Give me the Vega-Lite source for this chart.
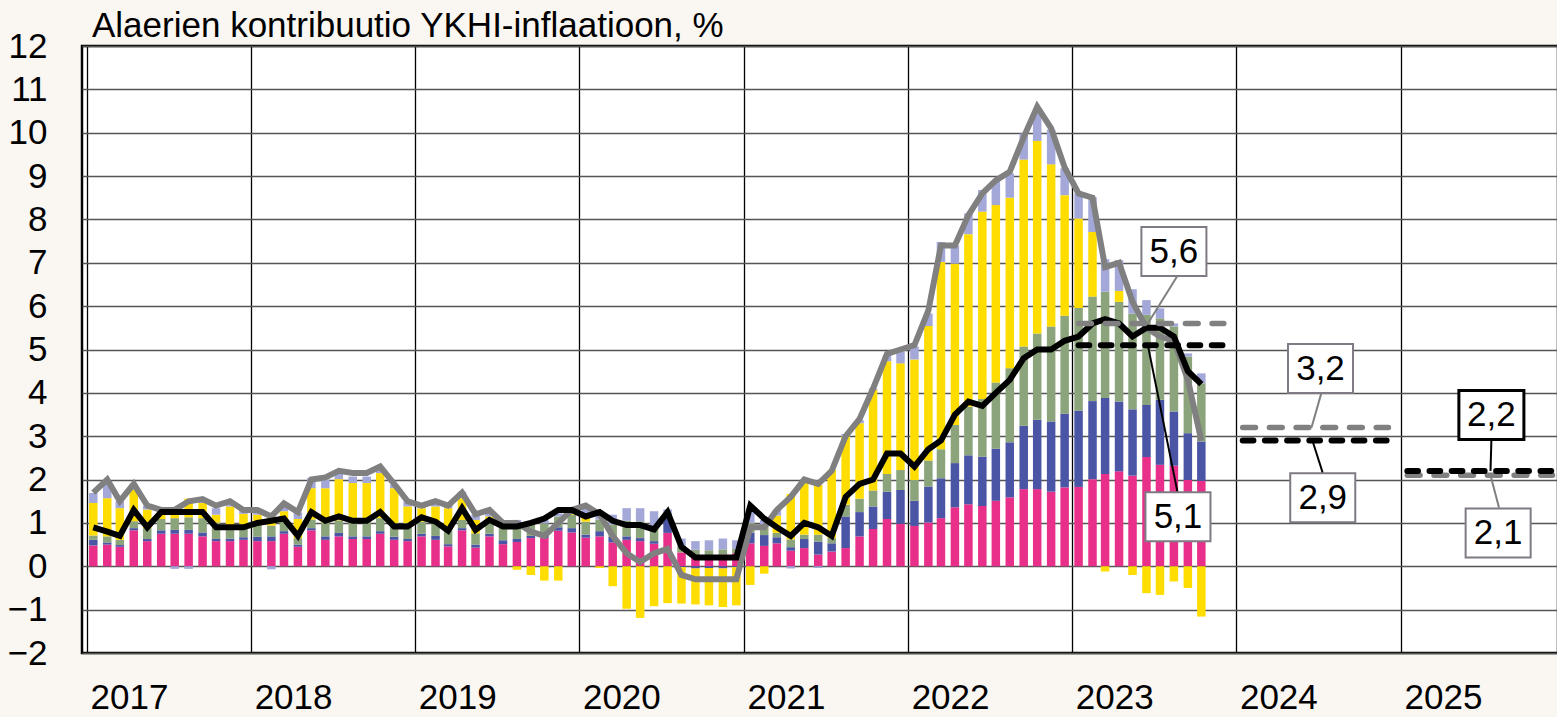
{
  "$schema": "https://vega.github.io/schema/vega-lite/v6.json",
  "autosize": {"type": "none"},
  "padding": {"left": 82, "top": 46, "right": 0, "bottom": 64},
  "width": 1476,
  "height": 607,
  "title": {"text": "Alaerien kontribuutio YKHI-inflaatioon, %", "anchor": "start", "frame": "group", "dx": 10, "offset": -42.5, "baseline": "alphabetic", "fontSize": 35, "font": "Liberation Sans", "fontWeight": "normal", "color": "black"},
  "config": {
    "background": "#FAF6F1",
    "view": {"fill": "white", "stroke": "black", "strokeWidth": 2.5},
    "axis": {"title": null, "labelFont": "Liberation Sans", "labelFontSize": 35, "labelColor": "black", "ticks": false, "domain": false}
  },
  "data": {
    "format": {"parse": {"d": "date"}},
    "values": [
      {"d":"2017-01-15","palvelut":0.48,"muut_tavarat":0.13,"jalost_ruoka":0.10,"energia":0.75,"ei_jalost_ruoka":0.23,"hicp":1.7,"core":0.9},
      {"d":"2017-02-15","palvelut":0.50,"muut_tavarat":0.05,"jalost_ruoka":0.14,"energia":0.88,"ei_jalost_ruoka":0.38,"hicp":2.0,"core":0.8},
      {"d":"2017-03-15","palvelut":0.45,"muut_tavarat":0.04,"jalost_ruoka":0.12,"energia":0.73,"ei_jalost_ruoka":0.16,"hicp":1.5,"core":0.7},
      {"d":"2017-04-15","palvelut":0.83,"muut_tavarat":0.05,"jalost_ruoka":0.16,"energia":0.73,"ei_jalost_ruoka":0.13,"hicp":1.9,"core":1.3},
      {"d":"2017-05-15","palvelut":0.58,"muut_tavarat":0.05,"jalost_ruoka":0.25,"energia":0.43,"ei_jalost_ruoka":0.09,"hicp":1.4,"core":0.9},
      {"d":"2017-06-15","palvelut":0.75,"muut_tavarat":0.08,"jalost_ruoka":0.26,"energia":0.13,"ei_jalost_ruoka":0.08,"hicp":1.3,"core":1.25},
      {"d":"2017-07-15","palvelut":0.75,"muut_tavarat":0.09,"jalost_ruoka":0.27,"energia":0.25,"ei_jalost_ruoka":-0.06,"hicp":1.3,"core":1.25},
      {"d":"2017-08-15","palvelut":0.75,"muut_tavarat":0.09,"jalost_ruoka":0.29,"energia":0.43,"ei_jalost_ruoka":-0.06,"hicp":1.5,"core":1.25},
      {"d":"2017-09-15","palvelut":0.69,"muut_tavarat":0.09,"jalost_ruoka":0.33,"energia":0.35,"ei_jalost_ruoka":0.11,"hicp":1.55,"core":1.25},
      {"d":"2017-10-15","palvelut":0.58,"muut_tavarat":0.05,"jalost_ruoka":0.38,"energia":0.18,"ei_jalost_ruoka":0.15,"hicp":1.4,"core":0.9},
      {"d":"2017-11-15","palvelut":0.58,"muut_tavarat":0.06,"jalost_ruoka":0.27,"energia":0.47,"ei_jalost_ruoka":0.08,"hicp":1.5,"core":0.9},
      {"d":"2017-12-15","palvelut":0.61,"muut_tavarat":0.06,"jalost_ruoka":0.29,"energia":0.25,"ei_jalost_ruoka":0.13,"hicp":1.3,"core":0.9},
      {"d":"2018-01-15","palvelut":0.58,"muut_tavarat":0.10,"jalost_ruoka":0.28,"energia":0.23,"ei_jalost_ruoka":0.08,"hicp":1.3,"core":1.0},
      {"d":"2018-02-15","palvelut":0.58,"muut_tavarat":0.11,"jalost_ruoka":0.25,"energia":0.20,"ei_jalost_ruoka":-0.07,"hicp":1.15,"core":1.05},
      {"d":"2018-03-15","palvelut":0.75,"muut_tavarat":0.06,"jalost_ruoka":0.23,"energia":0.23,"ei_jalost_ruoka":0.13,"hicp":1.45,"core":1.1},
      {"d":"2018-04-15","palvelut":0.45,"muut_tavarat":0.05,"jalost_ruoka":0.15,"energia":0.44,"ei_jalost_ruoka":0.15,"hicp":1.25,"core":0.7},
      {"d":"2018-05-15","palvelut":0.83,"muut_tavarat":0.05,"jalost_ruoka":0.20,"energia":0.72,"ei_jalost_ruoka":0.24,"hicp":2.0,"core":1.25},
      {"d":"2018-06-15","palvelut":0.61,"muut_tavarat":0.08,"jalost_ruoka":0.32,"energia":0.79,"ei_jalost_ruoka":0.20,"hicp":2.05,"core":1.05},
      {"d":"2018-07-15","palvelut":0.69,"muut_tavarat":0.08,"jalost_ruoka":0.29,"energia":0.95,"ei_jalost_ruoka":0.14,"hicp":2.2,"core":1.15},
      {"d":"2018-08-15","palvelut":0.63,"muut_tavarat":0.06,"jalost_ruoka":0.35,"energia":0.88,"ei_jalost_ruoka":0.15,"hicp":2.15,"core":1.05},
      {"d":"2018-09-15","palvelut":0.63,"muut_tavarat":0.06,"jalost_ruoka":0.36,"energia":0.87,"ei_jalost_ruoka":0.15,"hicp":2.15,"core":1.05},
      {"d":"2018-10-15","palvelut":0.75,"muut_tavarat":0.06,"jalost_ruoka":0.30,"energia":1.04,"ei_jalost_ruoka":0.12,"hicp":2.3,"core":1.25},
      {"d":"2018-11-15","palvelut":0.61,"muut_tavarat":0.07,"jalost_ruoka":0.32,"energia":0.80,"ei_jalost_ruoka":0.08,"hicp":1.9,"core":0.92},
      {"d":"2018-12-15","palvelut":0.58,"muut_tavarat":0.05,"jalost_ruoka":0.37,"energia":0.38,"ei_jalost_ruoka":0.12,"hicp":1.5,"core":0.92},
      {"d":"2019-01-15","palvelut":0.69,"muut_tavarat":0.06,"jalost_ruoka":0.28,"energia":0.31,"ei_jalost_ruoka":0.10,"hicp":1.4,"core":1.13},
      {"d":"2019-02-15","palvelut":0.61,"muut_tavarat":0.09,"jalost_ruoka":0.30,"energia":0.38,"ei_jalost_ruoka":0.12,"hicp":1.5,"core":1.03},
      {"d":"2019-03-15","palvelut":0.46,"muut_tavarat":0.05,"jalost_ruoka":0.33,"energia":0.50,"ei_jalost_ruoka":0.08,"hicp":1.4,"core":0.82},
      {"d":"2019-04-15","palvelut":0.83,"muut_tavarat":0.05,"jalost_ruoka":0.19,"energia":0.50,"ei_jalost_ruoka":0.15,"hicp":1.7,"core":1.34},
      {"d":"2019-05-15","palvelut":0.43,"muut_tavarat":0.07,"jalost_ruoka":0.26,"energia":0.31,"ei_jalost_ruoka":0.12,"hicp":1.2,"core":0.84},
      {"d":"2019-06-15","palvelut":0.69,"muut_tavarat":0.06,"jalost_ruoka":0.28,"energia":0.12,"ei_jalost_ruoka":0.11,"hicp":1.3,"core":1.07},
      {"d":"2019-07-15","palvelut":0.51,"muut_tavarat":0.09,"jalost_ruoka":0.32,"energia":0.07,"ei_jalost_ruoka":0.01,"hicp":1.0,"core":0.92},
      {"d":"2019-08-15","palvelut":0.56,"muut_tavarat":0.07,"jalost_ruoka":0.36,"energia":-0.08,"ei_jalost_ruoka":0.08,"hicp":1.0,"core":0.92},
      {"d":"2019-09-15","palvelut":0.65,"muut_tavarat":0.05,"jalost_ruoka":0.26,"energia":-0.20,"ei_jalost_ruoka":0.07,"hicp":0.8,"core":1.0},
      {"d":"2019-10-15","palvelut":0.65,"muut_tavarat":0.08,"jalost_ruoka":0.26,"energia":-0.33,"ei_jalost_ruoka":0.08,"hicp":0.7,"core":1.1},
      {"d":"2019-11-15","palvelut":0.82,"muut_tavarat":0.08,"jalost_ruoka":0.25,"energia":-0.33,"ei_jalost_ruoka":0.07,"hicp":1.0,"core":1.3},
      {"d":"2019-12-15","palvelut":0.78,"muut_tavarat":0.10,"jalost_ruoka":0.31,"energia":0.02,"ei_jalost_ruoka":0.11,"hicp":1.3,"core":1.3},
      {"d":"2020-01-15","palvelut":0.66,"muut_tavarat":0.07,"jalost_ruoka":0.30,"energia":0.19,"ei_jalost_ruoka":0.18,"hicp":1.4,"core":1.15},
      {"d":"2020-02-15","palvelut":0.69,"muut_tavarat":0.12,"jalost_ruoka":0.27,"energia":-0.04,"ei_jalost_ruoka":0.19,"hicp":1.2,"core":1.25},
      {"d":"2020-03-15","palvelut":0.55,"muut_tavarat":0.13,"jalost_ruoka":0.28,"energia":-0.46,"ei_jalost_ruoka":0.23,"hicp":0.7,"core":1.05},
      {"d":"2020-04-15","palvelut":0.61,"muut_tavarat":0.08,"jalost_ruoka":0.36,"energia":-0.98,"ei_jalost_ruoka":0.29,"hicp":0.3,"core":0.95},
      {"d":"2020-05-15","palvelut":0.58,"muut_tavarat":0.07,"jalost_ruoka":0.39,"energia":-1.19,"ei_jalost_ruoka":0.30,"hicp":0.1,"core":0.95},
      {"d":"2020-06-15","palvelut":0.52,"muut_tavarat":0.06,"jalost_ruoka":0.32,"energia":-0.92,"ei_jalost_ruoka":0.37,"hicp":0.3,"core":0.85},
      {"d":"2020-07-15","palvelut":0.77,"muut_tavarat":0.34,"jalost_ruoka":0.12,"energia":-0.85,"ei_jalost_ruoka":0.08,"hicp":0.4,"core":1.25},
      {"d":"2020-08-15","palvelut":0.32,"muut_tavarat":-0.02,"jalost_ruoka":0.15,"energia":-0.84,"ei_jalost_ruoka":0.17,"hicp":-0.2,"core":0.45},
      {"d":"2020-09-15","palvelut":0.25,"muut_tavarat":-0.05,"jalost_ruoka":0.13,"energia":-0.83,"ei_jalost_ruoka":0.20,"hicp":-0.3,"core":0.2},
      {"d":"2020-10-15","palvelut":0.25,"muut_tavarat":-0.04,"jalost_ruoka":0.12,"energia":-0.86,"ei_jalost_ruoka":0.23,"hicp":-0.3,"core":0.2},
      {"d":"2020-11-15","palvelut":0.27,"muut_tavarat":-0.05,"jalost_ruoka":0.12,"energia":-0.89,"ei_jalost_ruoka":0.25,"hicp":-0.3,"core":0.2},
      {"d":"2020-12-15","palvelut":0.30,"muut_tavarat":-0.02,"jalost_ruoka":0.10,"energia":-0.88,"ei_jalost_ruoka":0.20,"hicp":-0.3,"core":0.2},
      {"d":"2021-01-15","palvelut":0.53,"muut_tavarat":0.25,"jalost_ruoka":0.22,"energia":-0.43,"ei_jalost_ruoka":0.33,"hicp":0.9,"core":1.4},
      {"d":"2021-02-15","palvelut":0.47,"muut_tavarat":0.25,"jalost_ruoka":0.20,"energia":-0.17,"ei_jalost_ruoka":0.15,"hicp":0.9,"core":1.1},
      {"d":"2021-03-15","palvelut":0.53,"muut_tavarat":0.14,"jalost_ruoka":0.10,"energia":0.40,"ei_jalost_ruoka":0.13,"hicp":1.3,"core":0.9},
      {"d":"2021-04-15","palvelut":0.36,"muut_tavarat":0.08,"jalost_ruoka":0.18,"energia":1.05,"ei_jalost_ruoka":-0.05,"hicp":1.6,"core":0.7},
      {"d":"2021-05-15","palvelut":0.42,"muut_tavarat":0.21,"jalost_ruoka":0.10,"energia":1.26,"ei_jalost_ruoka":0.02,"hicp":2.0,"core":1.0},
      {"d":"2021-06-15","palvelut":0.27,"muut_tavarat":0.30,"jalost_ruoka":0.16,"energia":1.15,"ei_jalost_ruoka":-0.04,"hicp":1.9,"core":0.9},
      {"d":"2021-07-15","palvelut":0.34,"muut_tavarat":0.19,"jalost_ruoka":0.12,"energia":1.57,"ei_jalost_ruoka":0.0,"hicp":2.2,"core":0.7},
      {"d":"2021-08-15","palvelut":0.42,"muut_tavarat":0.73,"jalost_ruoka":0.27,"energia":1.58,"ei_jalost_ruoka":0.05,"hicp":3.0,"core":1.6},
      {"d":"2021-09-15","palvelut":0.69,"muut_tavarat":0.56,"jalost_ruoka":0.31,"energia":1.74,"ei_jalost_ruoka":0.07,"hicp":3.4,"core":1.9},
      {"d":"2021-10-15","palvelut":0.86,"muut_tavarat":0.52,"jalost_ruoka":0.37,"energia":2.32,"ei_jalost_ruoka":0.03,"hicp":4.1,"core":2.0},
      {"d":"2021-11-15","palvelut":1.09,"muut_tavarat":0.63,"jalost_ruoka":0.41,"energia":2.60,"ei_jalost_ruoka":0.14,"hicp":4.9,"core":2.6},
      {"d":"2021-12-15","palvelut":0.98,"muut_tavarat":0.78,"jalost_ruoka":0.46,"energia":2.46,"ei_jalost_ruoka":0.27,"hicp":5.0,"core":2.6},
      {"d":"2022-01-15","palvelut":0.93,"muut_tavarat":0.58,"jalost_ruoka":0.48,"energia":2.78,"ei_jalost_ruoka":0.30,"hicp":5.1,"core":2.3},
      {"d":"2022-02-15","palvelut":1.01,"muut_tavarat":0.83,"jalost_ruoka":0.60,"energia":3.10,"ei_jalost_ruoka":0.29,"hicp":5.9,"core":2.7},
      {"d":"2022-03-15","palvelut":1.11,"muut_tavarat":0.92,"jalost_ruoka":0.67,"energia":4.32,"ei_jalost_ruoka":0.46,"hicp":7.4,"core":2.9},
      {"d":"2022-04-15","palvelut":1.36,"muut_tavarat":1.02,"jalost_ruoka":0.88,"energia":3.72,"ei_jalost_ruoka":0.42,"hicp":7.4,"core":3.5},
      {"d":"2022-05-15","palvelut":1.43,"muut_tavarat":1.13,"jalost_ruoka":1.12,"energia":3.98,"ei_jalost_ruoka":0.48,"hicp":8.1,"core":3.8},
      {"d":"2022-06-15","palvelut":1.39,"muut_tavarat":1.14,"jalost_ruoka":1.33,"energia":4.32,"ei_jalost_ruoka":0.50,"hicp":8.6,"core":3.7},
      {"d":"2022-07-15","palvelut":1.51,"muut_tavarat":1.20,"jalost_ruoka":1.53,"energia":4.09,"ei_jalost_ruoka":0.55,"hicp":8.9,"core":4.0},
      {"d":"2022-08-15","palvelut":1.59,"muut_tavarat":1.27,"jalost_ruoka":1.71,"energia":3.93,"ei_jalost_ruoka":0.56,"hicp":9.1,"core":4.3},
      {"d":"2022-09-15","palvelut":1.78,"muut_tavarat":1.46,"jalost_ruoka":1.83,"energia":4.31,"ei_jalost_ruoka":0.60,"hicp":9.9,"core":4.8},
      {"d":"2022-10-15","palvelut":1.78,"muut_tavarat":1.60,"jalost_ruoka":1.99,"energia":4.44,"ei_jalost_ruoka":0.75,"hicp":10.6,"core":5.0},
      {"d":"2022-11-15","palvelut":1.72,"muut_tavarat":1.62,"jalost_ruoka":2.19,"energia":3.74,"ei_jalost_ruoka":0.80,"hicp":10.1,"core":5.0},
      {"d":"2022-12-15","palvelut":1.82,"muut_tavarat":1.70,"jalost_ruoka":2.26,"energia":2.78,"ei_jalost_ruoka":0.62,"hicp":9.2,"core":5.2},
      {"d":"2023-01-15","palvelut":1.83,"muut_tavarat":1.76,"jalost_ruoka":2.37,"energia":2.06,"ei_jalost_ruoka":0.58,"hicp":8.6,"core":5.3},
      {"d":"2023-02-15","palvelut":2.01,"muut_tavarat":1.80,"jalost_ruoka":2.41,"energia":1.49,"ei_jalost_ruoka":0.80,"hicp":8.5,"core":5.6},
      {"d":"2023-03-15","palvelut":2.13,"muut_tavarat":1.75,"jalost_ruoka":2.45,"energia":-0.12,"ei_jalost_ruoka":0.75,"hicp":6.9,"core":5.7},
      {"d":"2023-04-15","palvelut":2.19,"muut_tavarat":1.61,"jalost_ruoka":2.30,"energia":0.25,"ei_jalost_ruoka":0.71,"hicp":7.0,"core":5.6},
      {"d":"2023-05-15","palvelut":2.09,"muut_tavarat":1.53,"jalost_ruoka":2.21,"energia":-0.20,"ei_jalost_ruoka":0.56,"hicp":6.1,"core":5.3},
      {"d":"2023-06-15","palvelut":2.52,"muut_tavarat":1.20,"jalost_ruoka":2.08,"energia":-0.62,"ei_jalost_ruoka":0.34,"hicp":5.5,"core":5.5},
      {"d":"2023-07-15","palvelut":2.34,"muut_tavarat":1.50,"jalost_ruoka":1.88,"energia":-0.66,"ei_jalost_ruoka":0.23,"hicp":5.3,"core":5.5},
      {"d":"2023-08-15","palvelut":2.32,"muut_tavarat":1.25,"jalost_ruoka":1.96,"energia":-0.35,"ei_jalost_ruoka":0.07,"hicp":5.2,"core":5.3},
      {"d":"2023-09-15","palvelut":1.99,"muut_tavarat":1.08,"jalost_ruoka":1.77,"energia":-0.50,"ei_jalost_ruoka":0.07,"hicp":4.3,"core":4.5},
      {"d":"2023-10-15","palvelut":1.97,"muut_tavarat":0.91,"jalost_ruoka":1.34,"energia":-1.16,"ei_jalost_ruoka":0.23,"hicp":2.9,"core":4.2}
    ]
  },
  "layer": [
    {
      "transform": [{"fold": ["palvelut", "muut_tavarat", "jalost_ruoka", "energia", "ei_jalost_ruoka"], "as": ["osa", "arvo"]}],
      "mark": {"type": "bar", "width": 8.5},
      "encoding": {
        "x": {
          "field": "d", "type": "temporal",
          "scale": {"type": "utc", "domain": [{"year": 2017, "month": 1, "date": 1, "utc": true}, {"year": 2025, "month": 12, "date": 5, "utc": true}]},
          "axis": {
            "values": [
              {"year": 2017, "month": 1, "date": 1, "utc": true},
              {"year": 2018, "month": 1, "date": 1, "utc": true},
              {"year": 2019, "month": 1, "date": 1, "utc": true},
              {"year": 2020, "month": 1, "date": 1, "utc": true},
              {"year": 2021, "month": 1, "date": 1, "utc": true},
              {"year": 2022, "month": 1, "date": 1, "utc": true},
              {"year": 2023, "month": 1, "date": 1, "utc": true},
              {"year": 2024, "month": 1, "date": 1, "utc": true},
              {"year": 2025, "month": 1, "date": 1, "utc": true}
            ],
            "format": "%Y", "grid": true, "gridColor": "black", "gridWidth": 1.3,
            "labelAlign": "left", "labelOffset": 3, "labelPadding": 27, "labelBaseline": "top",
            "labelFlush": false, "labelOverlap": false
          }
        },
        "y": {
          "field": "arvo", "type": "quantitative",
          "scale": {"domain": [-2, 12], "nice": false, "zero": false},
          "axis": {"values": [-2, -1, 0, 1, 2, 3, 4, 5, 6, 7, 8, 9, 10, 11, 12], "grid": true, "gridColor": "#555555", "gridWidth": 1.5, "labelPadding": 35, "labelFlush": false}
        },
        "color": {
          "field": "osa", "type": "nominal", "legend": null,
          "scale": {"domain": ["palvelut", "muut_tavarat", "jalost_ruoka", "energia", "ei_jalost_ruoka"], "range": ["#E8308A", "#4B55A5", "#8CA47C", "#FFDD00", "#A3A8D8"]}
        },
        "order": {"field": "osa", "sort": "descending"}
      }
    },
    {
      "mark": {"type": "line", "color": "#808080", "strokeWidth": 6},
      "encoding": {"x": {"field": "d", "type": "temporal"}, "y": {"field": "hicp", "type": "quantitative"}}
    },
    {
      "mark": {"type": "line", "color": "black", "strokeWidth": 6},
      "encoding": {"x": {"field": "d", "type": "temporal"}, "y": {"field": "core", "type": "quantitative"}}
    },
    {
      "data": {
        "format": {"parse": {"alku": "date", "loppu": "date"}},
        "values": [
          {"alku": "2023-01-15", "loppu": "2023-12-04", "ykhi": 5.6, "pohja": 5.1},
          {"alku": "2024-01-15", "loppu": "2024-12-04", "ykhi": 3.2, "pohja": 2.9},
          {"alku": "2025-01-15", "loppu": "2025-12-04", "ykhi": 2.1, "pohja": 2.2}
        ]
      },
      "layer": [
        {
          "mark": {"type": "rule", "color": "#808080", "strokeWidth": 5.5, "strokeDash": [12.8, 13.9], "strokeCap": "round"},
          "encoding": {"x": {"field": "alku", "type": "temporal"}, "x2": {"field": "loppu"}, "y": {"field": "ykhi", "type": "quantitative"}}
        },
        {
          "mark": {"type": "rule", "color": "black", "strokeWidth": 6, "strokeDash": [10.7, 11.5], "strokeCap": "round"},
          "encoding": {"x": {"field": "alku", "type": "temporal"}, "x2": {"field": "loppu"}, "y": {"field": "pohja", "type": "quantitative"}}
        }
      ]
    },
    {
      "data": {
        "format": {"parse": {"xa": "date", "xb": "date"}},
        "values": [
          {"xa": "2023-08-23", "ya": 6.70, "xb": "2023-06-18", "yb": 5.6, "sarja": "YKHI"},
          {"xa": "2024-07-08", "ya": 4.00, "xb": "2024-06-16", "yb": 3.2, "sarja": "YKHI"},
          {"xa": "2025-07-19", "ya": 2.10, "xb": "2025-08-07", "yb": 1.35, "sarja": "YKHI"},
          {"xa": "2023-06-18", "ya": 5.1, "xb": "2023-08-23", "yb": 1.71, "sarja": "Pohjainflaatio"},
          {"xa": "2024-06-18", "ya": 2.9, "xb": "2024-07-11", "yb": 2.15, "sarja": "Pohjainflaatio"},
          {"xa": "2025-07-21", "ya": 2.91, "xb": "2025-07-19", "yb": 2.2, "sarja": "Pohjainflaatio"}
        ]
      },
      "mark": {"type": "rule", "strokeWidth": 2},
      "encoding": {
        "x": {"field": "xa", "type": "temporal"}, "x2": {"field": "xb"},
        "y": {"field": "ya", "type": "quantitative"}, "y2": {"field": "yb"},
        "stroke": {"field": "sarja", "type": "nominal", "legend": null, "scale": {"domain": ["YKHI", "Pohjainflaatio"], "range": ["#808080", "black"]}}
      }
    },
    {
      "data": {
        "format": {"parse": {"d": "date"}},
        "values": [
          {"d": "2023-08-15", "v": 7.26, "t": "5,6"},
          {"d": "2023-08-24", "v": 1.14, "t": "5,1"},
          {"d": "2024-07-06", "v": 4.56, "t": "3,2"},
          {"d": "2024-07-11", "v": 1.58, "t": "2,9"},
          {"d": "2025-07-21", "v": 3.49, "t": "2,2"},
          {"d": "2025-08-05", "v": 0.77, "t": "2,1"}
        ]
      },
      "layer": [
        {
          "mark": {"type": "point", "shape": "M-1.327,-1H1.327V1H-1.327Z", "size": 2401, "fill": "white", "opacity": 1, "fillOpacity": 1, "filled": false},
          "encoding": {
            "x": {"field": "d", "type": "temporal"},
            "y": {"field": "v", "type": "quantitative"},
            "stroke": {"condition": {"test": "datum.t === '2,2'", "value": "black"}, "value": "#7F7A84"},
            "strokeWidth": {"condition": {"test": "datum.t === '2,2'", "value": 3}, "value": 2}
          }
        },
        {
          "mark": {"type": "text", "font": "Liberation Sans", "fontSize": 35, "color": "black", "align": "center", "baseline": "middle"},
          "encoding": {
            "x": {"field": "d", "type": "temporal"},
            "y": {"field": "v", "type": "quantitative"},
            "text": {"field": "t", "type": "nominal"}
          }
        }
      ]
    }
  ]
}
